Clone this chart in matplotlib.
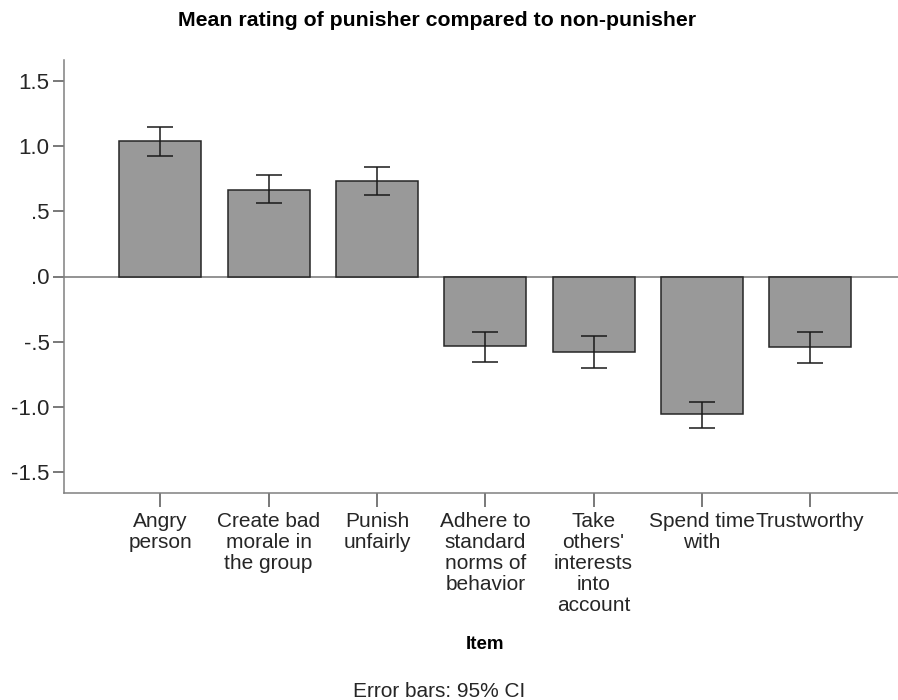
import matplotlib.pyplot as plt
import numpy as np

plt.rcParams['font.family'] = ['Liberation Sans', 'DejaVu Sans']

# data
items = ['Angry\nperson', 'Create bad\nmorale in\nthe group', 'Punish\nunfairly',
         'Adhere to\nstandard\nnorms of\nbehavior', 'Take\nothers\'\ninterests\ninto\naccount',
         'Spend time\nwith', 'Trustworthy']
means = [1.042, 0.669, 0.736, -0.538, -0.582, -1.059, -0.546]
ci_low = [0.928, 0.562, 0.628, -0.656, -0.705, -1.162, -0.666]
ci_high = [1.152, 0.780, 0.844, -0.423, -0.459, -0.964, -0.425]
yticks = [-1.5, -1.0, -0.5, 0.0, 0.5, 1.0, 1.5]
ytick_labels = ['-1.5', '-1.0', '-.5', '.0', '.5', '1.0', '1.5']

fig = plt.figure(figsize=(8.98, 7.0), dpi=100)
ax = fig.add_axes([64/898, 1-493/700, 1-64/898, (493-60)/700])

x = np.arange(len(items))
means = np.array(means)
err = np.array([means - np.array(ci_low), np.array(ci_high) - means])

ax.axhline(0, color='#808080', lw=1.2, zorder=1)
ax.bar(x, means, width=0.757, color='#999999', edgecolor='#262626', linewidth=1.1, zorder=2)
ax.errorbar(x, means, yerr=err, fmt='none', ecolor='#1a1a1a', elinewidth=1.1,
            capsize=9.7, capthick=1.1, zorder=3)

ax.set_xlim(-0.889, 6.81)
ax.set_ylim(-1.665, 1.665)
ax.set_yticks(yticks)
ax.set_yticklabels(ytick_labels)
ax.set_xticks(x)
ax.set_xticklabels(items, linespacing=1.12)

for s in ['top', 'right']:
    ax.spines[s].set_visible(False)
for s in ['left', 'bottom']:
    ax.spines[s].set_color('#808080')
    ax.spines[s].set_linewidth(1.1)
ax.tick_params(axis='x', length=10, width=1.1, color='#555555', labelsize=15,
               labelcolor='#262626', pad=4)
ax.tick_params(axis='y', length=8, width=1.1, color='#555555', labelsize=16,
               labelcolor='#262626', pad=2.5)

fig.text(437/898, 1-26/700, 'Mean rating of punisher compared to non-punisher',
         ha='center', va='baseline', fontsize=15.3, fontweight='bold')
fig.text(485/898, 1-649/700, 'Item', ha='center', va='baseline', fontsize=13.5, fontweight='bold')
fig.text(439/898, 1-697/700, 'Error bars: 95% CI', ha='center', va='baseline', fontsize=15,
         color='#262626')

fig.savefig('out.png', dpi=100)
